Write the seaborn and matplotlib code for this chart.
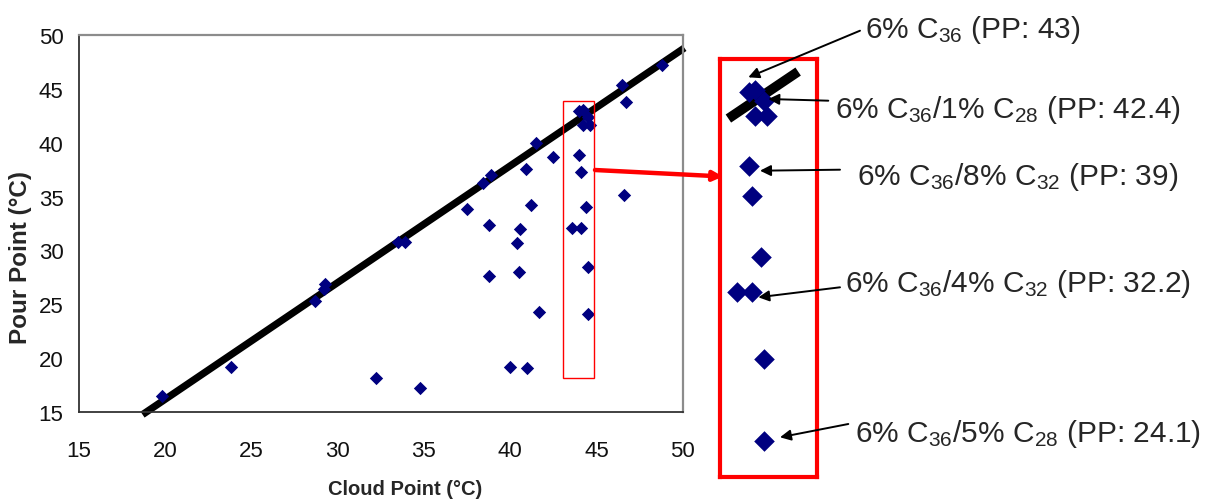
import matplotlib
matplotlib.use("Agg")
import matplotlib.pyplot as plt
import seaborn as sns
import numpy as np
import pandas as pd
from matplotlib.patches import Rectangle

# ---------------- data ----------------
cloud_point = [19.8, 23.8, 28.7, 29.2, 29.3, 32.2, 34.8, 33.5, 33.9, 37.5,
               38.4, 38.9, 38.8, 38.8, 40.9, 41.2, 40.6, 40.4, 40.5, 41.5,
               41.7, 40.0, 41.0, 42.5, 43.6, 44.1, 44.4, 44.5, 44.5, 44.0,
               44.2, 44.5, 44.2, 44.6, 44.0, 44.1, 46.5, 46.7, 46.6, 48.8]
pour_point = [16.5, 19.2, 25.3, 26.4, 26.9, 18.2, 17.2, 30.8, 30.8, 33.8,
              36.3, 37.0, 32.4, 27.6, 37.6, 34.2, 32.0, 30.7, 28.0, 40.0,
              24.3, 19.2, 19.1, 38.7, 32.1, 32.1, 34.0, 28.5, 24.1, 42.9,
              43.0, 42.4, 41.6, 41.6, 38.9, 37.3, 45.4, 43.8, 35.1, 47.2]

fit_slope = 1.084
fit_intercept = -5.51
fit_x_main = [18.7, 50.1]
fit_x_inset = [43.32, 45.65]

# highlighted region (data units)
zoom_x = [43.08, 44.86]
zoom_y = [18.12, 43.9]

x_ticks = [15, 20, 25, 30, 35, 40, 45, 50]
y_ticks = [15, 20, 25, 30, 35, 40, 45, 50]

annotations = [
    r"6% C$_{\mathrm{36}}$ (PP: 43)",
    r"6% C$_{\mathrm{36}}$/1% C$_{\mathrm{28}}$ (PP: 42.4)",
    r"6% C$_{\mathrm{36}}$/8% C$_{\mathrm{32}}$ (PP: 39)",
    r"6% C$_{\mathrm{36}}$/4% C$_{\mathrm{32}}$ (PP: 32.2)",
    r"6% C$_{\mathrm{36}}$/5% C$_{\mathrm{28}}$ (PP: 24.1)",
]

df = pd.DataFrame({"cloud": cloud_point, "pour": pour_point})

# ---------------- style ----------------
sns.set_style("white")
plt.rcParams["font.family"] = ["Liberation Sans", "DejaVu Sans"]
plt.rcParams["mathtext.fontset"] = "custom"
plt.rcParams["mathtext.rm"] = "Liberation Sans"
plt.rcParams["mathtext.it"] = "Liberation Sans:italic"
plt.rcParams["mathtext.bf"] = "Liberation Sans:bold"

W, H = 1206, 502
fig = plt.figure(figsize=(W / 100, H / 100), dpi=100)
fig.patch.set_facecolor("white")


def fx(px):
    return px / W


def fy(py):
    return 1 - py / H


navy = "#000080"

# ---------------- main axes ----------------
ax = fig.add_axes([fx(78.7), fy(413), fx(682.7) - fx(78.7), fy(36) - fy(413)])
sns.scatterplot(data=df, x="cloud", y="pour", ax=ax, marker="D", s=46,
                color=navy, edgecolor=navy, linewidth=0, zorder=3)
lx = np.array(fit_x_main)
ax.plot(lx, fit_slope * lx + fit_intercept, color="black", lw=5.2,
        solid_capstyle="butt", clip_on=False, zorder=2)

ax.set_xlim(15, 50)
ax.set_ylim(15, 50)
ax.set_xticks(x_ticks)
ax.set_yticks(y_ticks)
ax.tick_params(axis="both", which="both", direction="out", length=5,
               width=1.0, color="#333333", labelsize=16, labelcolor="#111111")
ax.tick_params(axis="x", pad=15)
ax.tick_params(axis="y", pad=6)
for s in ["left", "bottom"]:
    ax.spines[s].set_color("#333333")
    ax.spines[s].set_linewidth(1.3)
for s in ["top", "right"]:
    ax.spines[s].set_color("#8c8c8c")
    ax.spines[s].set_linewidth(1.6)
ax.set_xlabel("")
ax.set_ylabel("")

ax.add_patch(Rectangle((zoom_x[0], zoom_y[0]), zoom_x[1] - zoom_x[0],
                       zoom_y[1] - zoom_y[0], fill=False, edgecolor="red",
                       lw=1.0, zorder=4))

fig.text(fx(405), fy(490), "Cloud Point (°C)", fontsize=14.5,
         fontweight="bold", ha="center", va="center")
fig.text(fx(21), fy(257), "Pour Point (°C)", fontsize=17.5,
         fontweight="bold", ha="center", va="center", rotation=90)

# ---------------- inset ----------------
axi = fig.add_axes([fx(720), fy(478), fx(817) - fx(720), fy(60) - fy(478)])
sub = df[(df.cloud >= zoom_x[0]) & (df.cloud <= zoom_x[1]) &
         (df.pour >= zoom_y[0]) & (df.pour <= zoom_y[1])]
sns.scatterplot(data=sub, x="cloud", y="pour", ax=axi, marker="D", s=110,
                color=navy, edgecolor=navy, linewidth=0, zorder=3)
ix = np.array(fit_x_inset)
axi.plot(ix, fit_slope * ix + fit_intercept, color="black", lw=7,
         solid_capstyle="butt", zorder=2)
axi.set_xlim(43.04, 46.28)
axi.set_ylim(22.18, 44.65)
axi.set_xticks([])
axi.set_yticks([])
axi.set_xlabel("")
axi.set_ylabel("")
for s in axi.spines.values():
    s.set_color("red")
    s.set_linewidth(3)

# ---------------- annotations ----------------
text_pos = [(865, 38), (835, 118.3), (856.7, 185), (845, 291.7), (855, 441.7)]
arrow_tail = [(860, 31.7), (828.3, 101.7), (840, 170.7), (840, 288.3), (848.3, 425)]
arrow_head = [(748.3, 78.3), (768.3, 100), (760, 171.7), (758.3, 298.3), (780, 438.3)]

for label, (tx, ty), (ax0, ay0), (hx, hy) in zip(annotations, text_pos,
                                                 arrow_tail, arrow_head):
    fig.text(fx(tx), fy(ty), label, fontsize=21.5, ha="left", va="baseline")
    fig.add_artist(matplotlib.patches.FancyArrowPatch(
        (fx(ax0), fy(ay0)), (fx(hx), fy(hy)), transform=fig.transFigure,
        arrowstyle="-|>", mutation_scale=16, color="black", lw=1.4,
        shrinkA=0, shrinkB=0))

# red connector arrow
fig.add_artist(matplotlib.patches.FancyArrowPatch(
    (fx(595), fy(171)), (fx(723), fy(177.5)), transform=fig.transFigure,
    arrowstyle="-|>", mutation_scale=14, color="red", lw=3.2,
    shrinkA=0, shrinkB=0))

fig.savefig("out.png", dpi=100, facecolor="white")
